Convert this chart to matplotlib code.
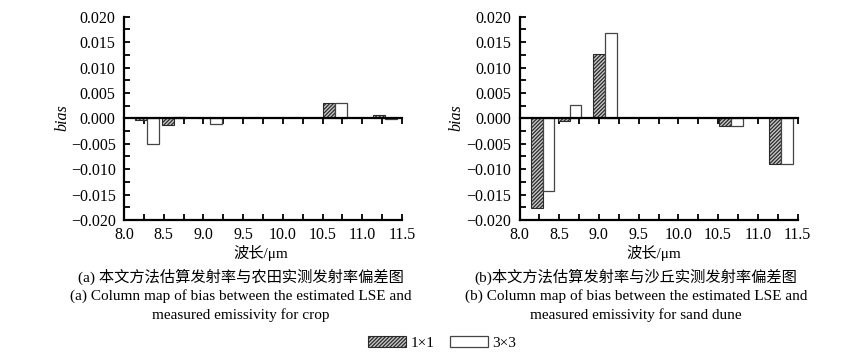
import numpy as np
import matplotlib
matplotlib.use("Agg")
import matplotlib.pyplot as plt
from matplotlib.patches import Patch
from matplotlib.ticker import MultipleLocator, FuncFormatter

plt.rcParams['font.family'] = ['Liberation Serif', 'Noto Sans CJK SC']
plt.rcParams['hatch.linewidth'] = 0.9

# ASTER thermal band centres (um)
bands = np.array([8.29, 8.63, 9.08, 10.66, 11.29])
crop_1x1 = [-0.0004, -0.0013, 0.0001, 0.0031, 0.0006]
crop_3x3 = [-0.0050, 0.0003, -0.0011, 0.0030, -0.0002]
dune_1x1 = [-0.0177, -0.0005, 0.0127, -0.0016, -0.0090]
dune_3x3 = [-0.0142, 0.0026, 0.0167, -0.0016, -0.0089]

captions_a = ["(a) 本文方法估算发射率与农田实测发射率偏差图",
              "(a) Column map of bias between the estimated LSE and",
              "measured emissivity for crop"]
captions_b = ["(b)本文方法估算发射率与沙丘实测发射率偏差图",
              "(b) Column map of bias between the estimated LSE and",
              "measured emissivity for sand dune"]

W, H = 850, 362
fig = plt.figure(figsize=(8.5, 3.62), dpi=100)
ax1 = fig.add_axes([124 / W, (H - 220) / H, 278 / W, 203.3 / H])
ax2 = fig.add_axes([519.5 / W, (H - 220) / H, 278 / W, 203.3 / H])

w = 0.15
hatch_kw = dict(facecolor='#c8c8c8', edgecolor='#2a2a2a', hatch='/////////', linewidth=0.8)
open_kw = dict(facecolor='white', edgecolor='#444444', linewidth=0.9)

yfmt = FuncFormatter(lambda v, p: ('%.3f' % v).replace('-', '\u2212') if abs(v) > 1e-9 else '0.000')
xfmt = FuncFormatter(lambda v, p: '%.1f' % v)

for ax, d1, d3 in [(ax1, crop_1x1, crop_3x3), (ax2, dune_1x1, dune_3x3)]:
    ax.bar(bands - w / 2, d1, width=w, **hatch_kw, zorder=2)
    ax.bar(bands + w / 2, d3, width=w, **open_kw, zorder=2)
    ax.set_xlim(8.0, 11.5)
    ax.set_ylim(-0.020, 0.020)
    ax.xaxis.set_major_locator(MultipleLocator(0.5))
    ax.xaxis.set_minor_locator(MultipleLocator(0.25))
    ax.yaxis.set_major_locator(MultipleLocator(0.005))
    ax.yaxis.set_minor_locator(MultipleLocator(0.0025))
    ax.xaxis.set_major_formatter(xfmt)
    ax.yaxis.set_major_formatter(yfmt)
    ax.spines['right'].set_visible(False)
    ax.spines['top'].set_position(('data', 0))
    for s in ['left', 'bottom', 'top']:
        ax.spines[s].set_linewidth(1.6)
        ax.spines[s].set_zorder(3)
    ax.tick_params(axis='x', which='both', direction='in', top=True, bottom=True,
                   labeltop=False, length=4, width=1.3, labelsize=11.5, pad=5)
    ax.tick_params(axis='y', which='both', direction='in', right=False,
                   length=4, width=1.3, labelsize=11.5, pad=6)
    ax.patch.set_alpha(0)

# axis labels
fig.text(62 / W, 1 - 118 / H, 'bias', rotation=90, style='italic', fontsize=11.5,
         ha='center', va='center')
fig.text(456 / W, 1 - 118 / H, 'bias', rotation=90, style='italic', fontsize=11.5,
         ha='center', va='center')
fig.text(261 / W, 1 - 253 / H, '波长/μm', fontsize=11, ha='center', va='center')
fig.text(654 / W, 1 - 253 / H, '波长/μm', fontsize=11, ha='center', va='center')

# captions
for cx, lines in [(241, captions_a), (636, captions_b)]:
    for y, t in zip([277, 296, 315], lines):
        fig.text(cx / W, 1 - y / H, t, fontsize=11, ha='center', va='center')

handles = [Patch(**hatch_kw, label='1×1'), Patch(**open_kw, label='3×3')]
fig.legend(handles=handles, loc='center', bbox_to_anchor=(442 / W, 1 - 343 / H),
           ncol=2, frameon=False, fontsize=11, handlelength=2.5, handleheight=0.75,
           handletextpad=0.3, columnspacing=1.0)

fig.savefig('out.png', dpi=100)
